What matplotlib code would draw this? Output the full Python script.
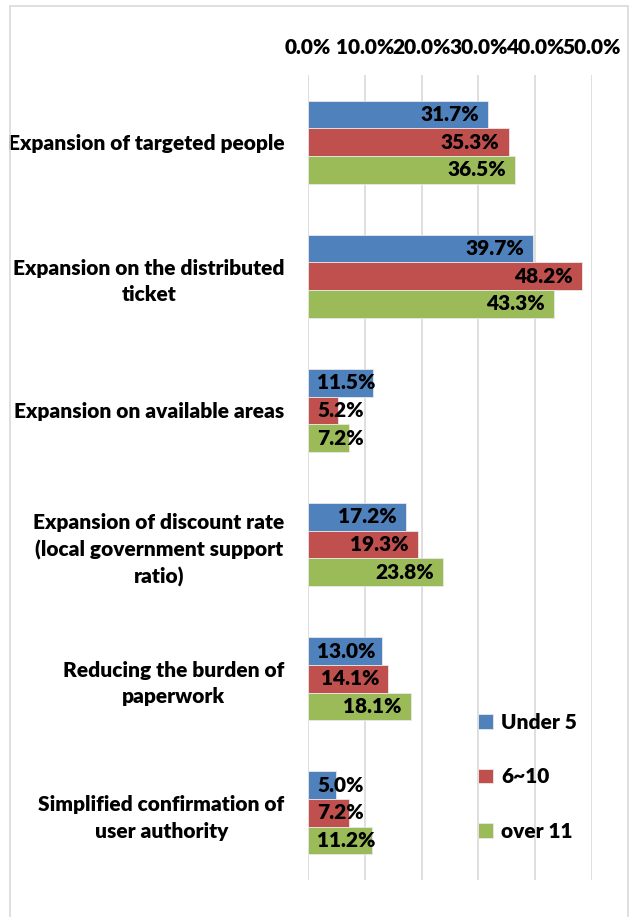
import matplotlib
matplotlib.use("Agg")
import matplotlib.pyplot as plt
import numpy as np
from matplotlib.patches import Rectangle

plt.rcParams['font.family'] = ['Lato', 'DejaVu Sans']
plt.rcParams['font.weight'] = 'heavy'

categories = [
    "Expansion of targeted people",
    "Expansion on the distributed\nticket",
    "Expansion on available areas",
    "Expansion of discount rate\n(local government support\nratio)",
    "Reducing the burden of\npaperwork",
    "Simplified confirmation of\nuser authority",
]
series_names = ["Under 5", "6~10", "over 11"]
under5 = [31.7, 39.7, 11.5, 17.2, 13.0, 5.0]
six_ten = [35.3, 48.2, 5.2, 19.3, 14.1, 7.2]
over11 = [36.5, 43.3, 7.2, 23.8, 18.1, 11.2]
xticks = [0, 10, 20, 30, 40, 50]

colors = ["#4F81BD", "#C0504D", "#9BBB59"]
FS = 15
W = "heavy"

fig = plt.figure(figsize=(6.3, 9.17), dpi=100)
ax = fig.add_axes([308 / 630, 1 - 880 / 917, 284 / 630, 805 / 917])

# outer chart frame (runs off the bottom edge)
fig.patches.append(Rectangle((10 / 630, -0.05), 618 / 630, 1.05 - 6 / 917,
                             transform=fig.transFigure, fill=False,
                             edgecolor="#D9D9D9", linewidth=1.2))

y = np.arange(len(categories))
h = 0.206
bars = []
for i, (vals, c) in enumerate(zip([under5, six_ten, over11], colors)):
    b = ax.barh(y + (i - 1) * h, vals, height=h, color=c,
                edgecolor="#E8E8E8", linewidth=0.6, label=series_names[i], zorder=2)
    bars.append(b)

ax.set_xlim(0, 50)
ax.set_ylim(len(categories) - 0.5, -0.5)
ax.set_xticks(xticks)
ax.set_xticklabels([f"{t:.1f}%" for t in xticks], fontsize=FS, fontweight=W)
ax.xaxis.tick_top()
ax.tick_params(axis="x", length=0, pad=13)
ax.set_yticks(y)
ax.set_yticklabels(categories, fontsize=FS, fontweight=W, linespacing=1.45)
for t in ax.get_yticklabels():
    t.set_multialignment("center")
ax.tick_params(axis="y", length=0, pad=17)
ax.grid(axis="x", color="#D9D9D9", linewidth=1.2, zorder=0)
for s in ax.spines.values():
    s.set_visible(False)

# value labels at the inside end, pushed right when the bar is too short
fig.canvas.draw()
r = fig.canvas.get_renderer()
px = ax.transData.transform((1, 0))[0] - ax.transData.transform((0, 0))[0]
pad = 9 / px
for b in bars:
    for rect in b:
        v = rect.get_width()
        yc = rect.get_y() + rect.get_height() / 2
        t = ax.text(v - pad, yc, f"{v:.1f}%", ha="right", va="center",
                    fontsize=FS, fontweight=W, color="black", zorder=3)
        w = t.get_window_extent(r).width / px
        if v - pad - w < pad:
            t.set_x(pad)
            t.set_ha("left")

leg = ax.legend(loc="upper left", bbox_to_anchor=(478 / 630, 1 - 713 / 917),
                bbox_transform=fig.transFigure, frameon=False,
                prop={"size": FS, "weight": W},
                handlelength=0.7, handleheight=0.7, handletextpad=0.4,
                labelspacing=1.7, borderpad=0, borderaxespad=0)

fig.savefig("out.png", dpi=100)
